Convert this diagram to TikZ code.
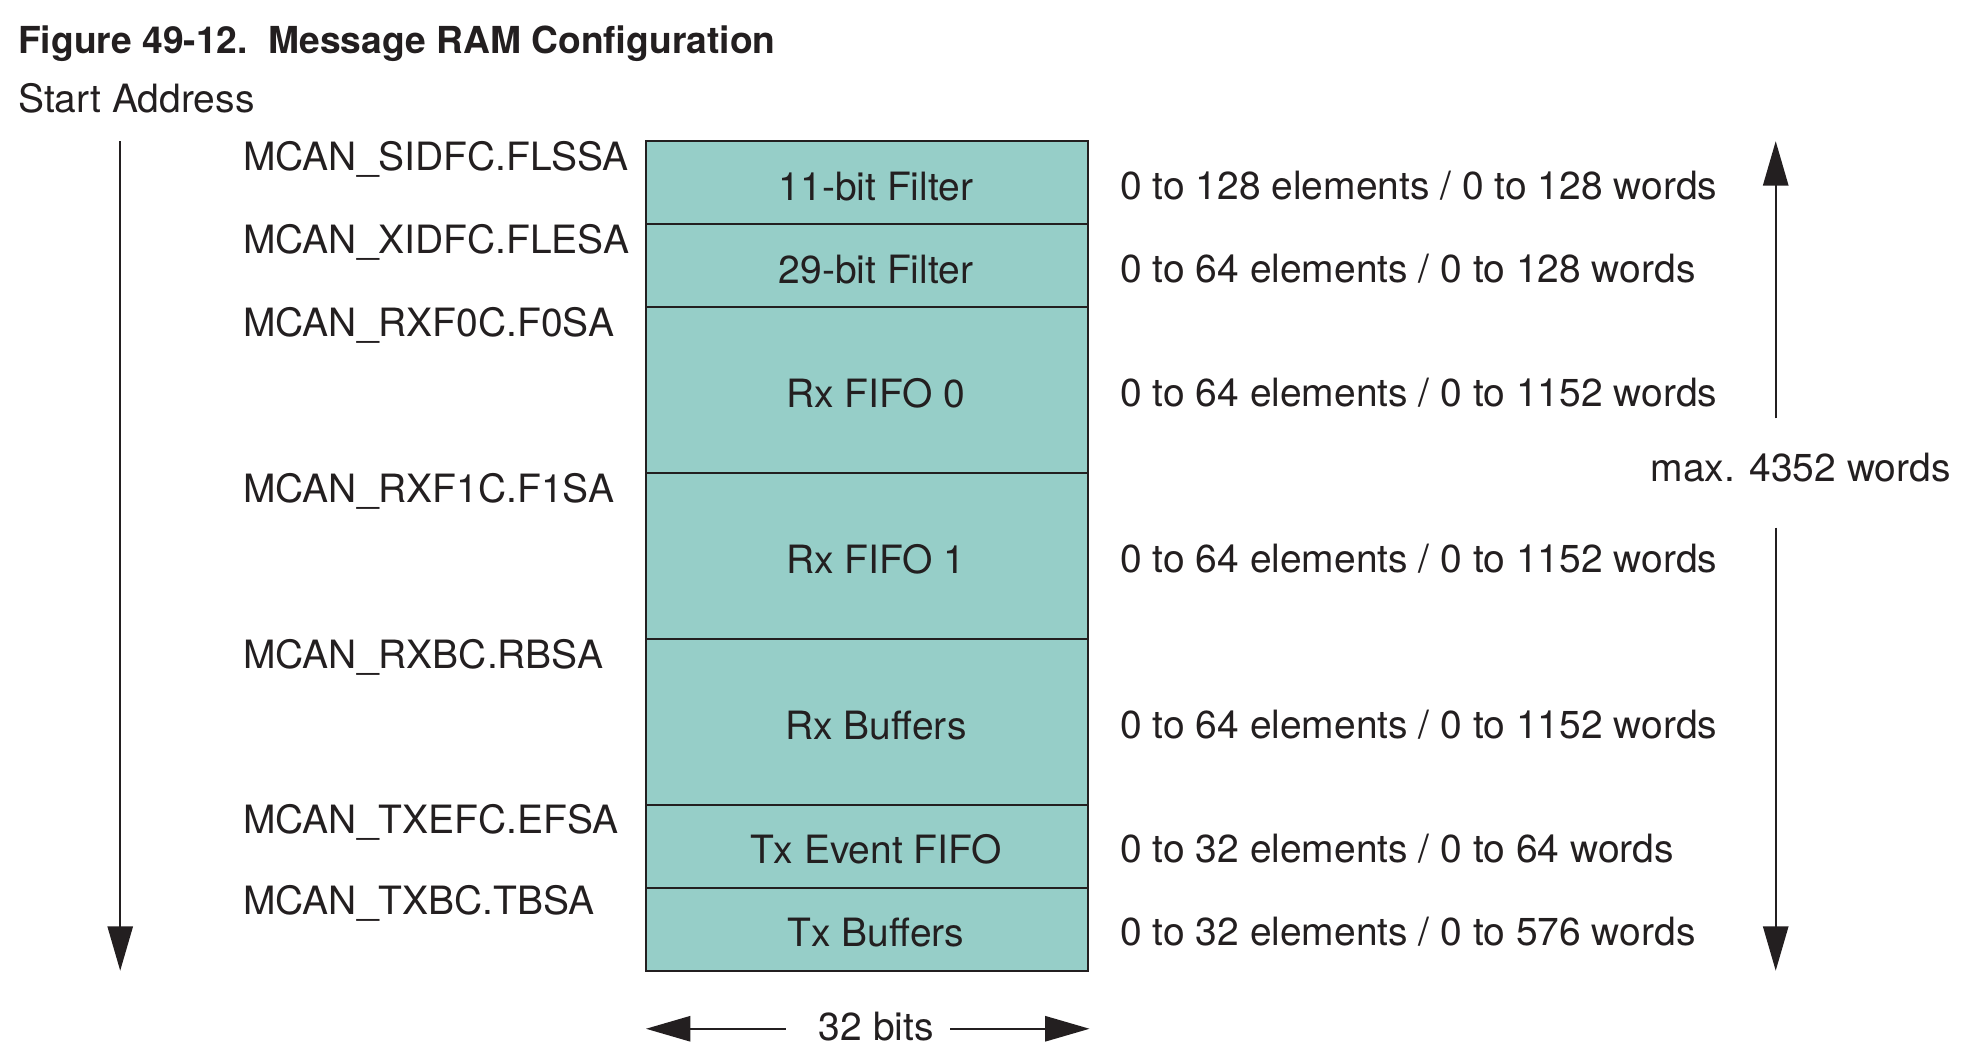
\documentclass[tikz,border=0pt]{standalone}
\usepackage{fontspec}
\setmainfont{TeX Gyre Heros}
\usepackage{xcolor}
\usetikzlibrary{arrows.meta, positioning}

\definecolor{ramfill}{RGB}{150,206,200}
\definecolor{ramink}{RGB}{35,31,32}

\tikzset{
	region/.style={draw=ramink, line width=0.8pt, fill=ramfill, text=ramink,
		inner sep=0pt, outer sep=0pt, minimum width=174.75pt,
		font=\fontsize{15.4}{18}\selectfont, text height=14pt, text depth=0pt,
		execute at begin node={\hspace*{7pt}}},
	slot/.style={region, minimum height=32.775pt},
	bigslot/.style={region, minimum height=65.55pt},
	addrlbl/.style={anchor=base west, inner sep=0pt, text=ramink, font=\fontsize{15.4}{18}\selectfont},
	extentlbl/.style={inner sep=0pt, text=ramink, font=\fontsize{15.4}{18}\selectfont, text height=13pt, text depth=0pt},
	dim/.style={->, >={Triangle[length=17.5pt, width=10pt]}, line width=0.65pt, color=ramink},
}

\begin{document}
\begin{tikzpicture}[x=0.5pt, y=-0.5pt]
	\useasboundingbox (0,0) rectangle (1560,836.1);

	\node[anchor=base west, inner sep=0pt, text=ramink, font=\fontsize{14.7}{18}\selectfont\bfseries] (title) at (14,42.5) {Figure 49-12.\ \ Message RAM Configuration};
	\node[addrlbl] (start) at (14,89) {Start Address};

	% message RAM sections
	\node[slot, anchor=north west] (sid) at (510.5,111.6) {11-bit Filter};
	\node[slot, below=0pt of sid] (xid) {29-bit Filter};
	\node[bigslot, below=0pt of xid] (rxf0) {Rx FIFO 0};
	\node[bigslot, below=0pt of rxf0] (rxf1) {Rx FIFO 1};
	\node[bigslot, below=0pt of rxf1] (rxb) {Rx Buffers};
	\node[slot, below=0pt of rxb] (txef) {Tx Event FIFO};
	\node[slot, below=0pt of txef] (txb) {Tx Buffers};

	% start address registers
	\node[addrlbl] (asid) at (192,134.6) {MCAN\_SIDFC.FLSSA};
	\node[addrlbl] (axid) at (192,200.2) {MCAN\_XIDFC.FLESA};
	\node[addrlbl] (arxf0) at (192,265.7) {MCAN\_RXF0C.F0SA};
	\node[addrlbl] (arxf1) at (192,396.8) {MCAN\_RXF1C.F1SA};
	\node[addrlbl] (arxb) at (192,527.9) {MCAN\_RXBC.RBSA};
	\node[addrlbl] (atxef) at (192,659.0) {MCAN\_TXEFC.EFSA};
	\node[addrlbl] (atxb) at (192,723) {MCAN\_TXBC.TBSA};

	% sizes
	\node[extentlbl, right=12.5pt of sid] (nsid) {0 to 128 elements / 0 to 128 words};
	\node[extentlbl, right=12.5pt of xid] (nxid) {0 to 64 elements / 0 to 128 words};
	\node[extentlbl, right=12.5pt of rxf0] (nrxf0) {0 to 64 elements / 0 to 1152 words};
	\node[extentlbl, right=12.5pt of rxf1] (nrxf1) {0 to 64 elements / 0 to 1152 words};
	\node[extentlbl, right=12.5pt of rxb] (nrxb) {0 to 64 elements / 0 to 1152 words};
	\node[extentlbl, right=12.5pt of txef] (ntxef) {0 to 32 elements / 0 to 64 words};
	\node[extentlbl, right=12.5pt of txb] (ntxb) {0 to 32 elements / 0 to 576 words};

	\node[anchor=base, inner sep=0pt, text=ramink, font=\fontsize{15.4}{18}\selectfont] (maxw) at (1423,380.6) {max. 4352 words};
	\node[anchor=base, inner sep=0pt, text=ramink, font=\fontsize{15.4}{18}\selectfont] (bits) at (692.5,822.4) {32 bits};

	\coordinate (addrtop) at (95,111.6);
	\coordinate (addrend) at (95,767.1);
	\coordinate (maxup) at (1403.3,330.6);
	\coordinate (maxtop) at (1403.3,111.6);
	\coordinate (maxdown) at (1403.3,417);
	\coordinate (maxbot) at (1403.3,767.1);
	\coordinate (bitsl) at (621,813);
	\coordinate (bitsltip) at (510.5,813);
	\coordinate (bitsr) at (750.8,813);
	\coordinate (bitsrtip) at (861,813);

	\path[dim] (addrtop) edge (addrend);

	\path[dim] (maxup) edge (maxtop);
	\path[dim] (maxdown) edge (maxbot);

	\path[dim] (bitsl) edge (bitsltip);
	\path[dim] (bitsr) edge (bitsrtip);
\end{tikzpicture}
\end{document}
